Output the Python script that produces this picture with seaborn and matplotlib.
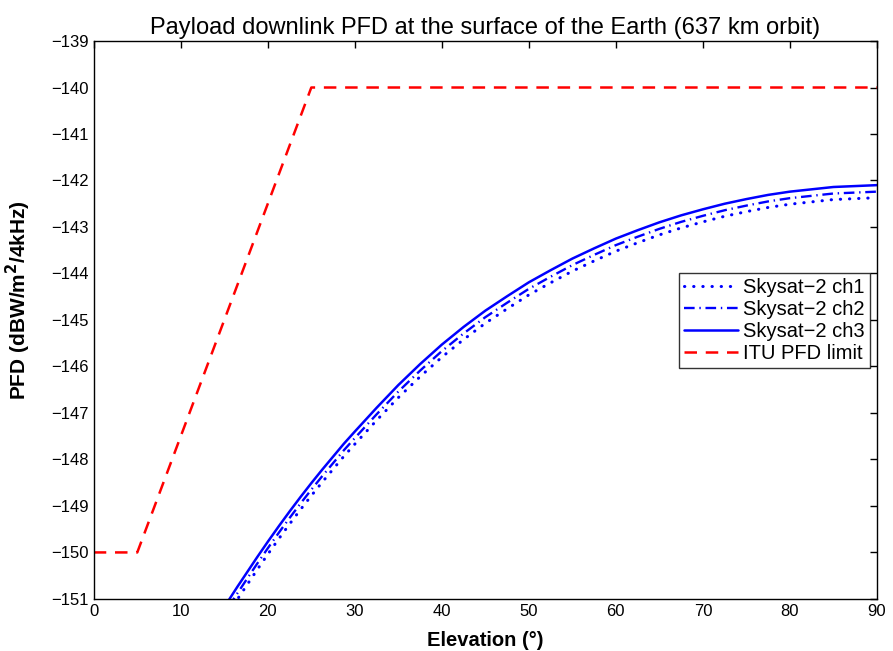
import matplotlib
matplotlib.use("Agg")
import matplotlib.pyplot as plt
import seaborn as sns

# ── data ────────────────────────────────────────────────────────────────────
elevation = [15.5, 16.5, 17.5, 18.75, 20, 21.25, 22.5, 23.75, 25, 26.25,
             27.5, 28.75, 30, 32.5, 35, 37.5, 40, 42.5, 45, 47.5, 50, 52.5,
             55, 57.5, 60, 62.5, 65, 67.5, 70, 72.5, 75, 77.5, 80, 82.5,
             85, 87.5, 90]
ch3 = [-151.03, -150.74, -150.46, -150.11, -149.77, -149.44, -149.12,
       -148.81, -148.51, -148.22, -147.94, -147.66, -147.40, -146.89,
       -146.40, -145.95, -145.53, -145.15, -144.80, -144.49, -144.19,
       -143.93, -143.68, -143.46, -143.25, -143.07, -142.90, -142.75,
       -142.62, -142.50, -142.40, -142.31, -142.24, -142.19, -142.14,
       -142.12, -142.10]
ch2 = [-151.17, -150.88, -150.60, -150.25, -149.91, -149.58, -149.26,
       -148.95, -148.65, -148.36, -148.08, -147.80, -147.54, -147.03,
       -146.54, -146.09, -145.67, -145.29, -144.94, -144.63, -144.33,
       -144.07, -143.82, -143.60, -143.39, -143.21, -143.04, -142.89,
       -142.76, -142.64, -142.54, -142.45, -142.38, -142.33, -142.28,
       -142.26, -142.24]
ch1 = [-151.30, -151.01, -150.73, -150.38, -150.04, -149.71, -149.39,
       -149.08, -148.78, -148.49, -148.21, -147.93, -147.67, -147.16,
       -146.67, -146.22, -145.80, -145.42, -145.07, -144.76, -144.46,
       -144.20, -143.95, -143.73, -143.52, -143.34, -143.17, -143.02,
       -142.89, -142.77, -142.67, -142.58, -142.51, -142.46, -142.41,
       -142.39, -142.37]

itu_elev = [0, 5, 25, 90]
itu_limit = [-150, -150, -140, -140]

sns.set_style("white")
plt.rcParams["font.family"] = ["Liberation Sans", "DejaVu Sans"]
plt.rcParams["text.color"] = "black"
plt.rcParams["axes.labelcolor"] = "black"
plt.rcParams["xtick.color"] = "black"
plt.rcParams["ytick.color"] = "black"

BLUE = "#0000ff"
RED = "#ff0000"

fig = plt.figure(figsize=(8.93, 6.51), dpi=100)
ax = fig.add_axes([0.105, 0.080, 0.877, 0.857])

sns.lineplot(x=elevation, y=ch1, ax=ax, color=BLUE, linewidth=2.2,
             linestyle=(0, (0.1, 2.9)), dash_capstyle="round",
             label="Skysat\u22122 ch1")
sns.lineplot(x=elevation, y=ch2, ax=ax, color=BLUE, linewidth=1.7,
             linestyle=(0, (4.5, 2, 0.6, 2)), label="Skysat\u22122 ch2")
sns.lineplot(x=elevation, y=ch3, ax=ax, color=BLUE, linewidth=1.8,
             label="Skysat\u22122 ch3")
sns.lineplot(x=itu_elev, y=itu_limit, ax=ax, color=RED, linewidth=1.8,
             linestyle=(0, (5, 3.5)), label="ITU PFD limit")

ax.set_xlim(0, 90)
ax.set_ylim(-151, -139)
ax.set_xticks(range(0, 91, 10))
ax.set_yticks(range(-151, -138, 1))
ax.tick_params(direction="in", top=True, right=True, length=5,
               width=1, labelsize=12, colors="black")
for sp in ax.spines.values():
    sp.set_color("black")
    sp.set_linewidth(1)

ax.set_title("Payload downlink PFD at the surface of the Earth (637 km orbit)",
             fontsize=17, pad=5, color="black")
ax.set_xlabel("Elevation (\u00b0)", fontsize=14.5, fontweight="bold")
ax.xaxis.set_label_coords(0.5, -0.058)
ax.set_ylabel("PFD (dBW/m$^\\mathbf{2}$/4kHz)", fontsize=15,
              fontweight="bold")
ax.yaxis.set_label_coords(-0.078, 0.536)

leg = ax.legend(loc="upper right", bbox_to_anchor=(0.991, 0.585),
                fontsize=14.5, frameon=True, fancybox=False,
                handlelength=2.7, borderpad=0.25, labelspacing=0.15,
                handletextpad=0.25, borderaxespad=0)
leg.get_frame().set_edgecolor("black")
leg.get_frame().set_linewidth(1)
for t in leg.get_texts():
    t.set_color("black")

fig.savefig("out.png", dpi=100)
